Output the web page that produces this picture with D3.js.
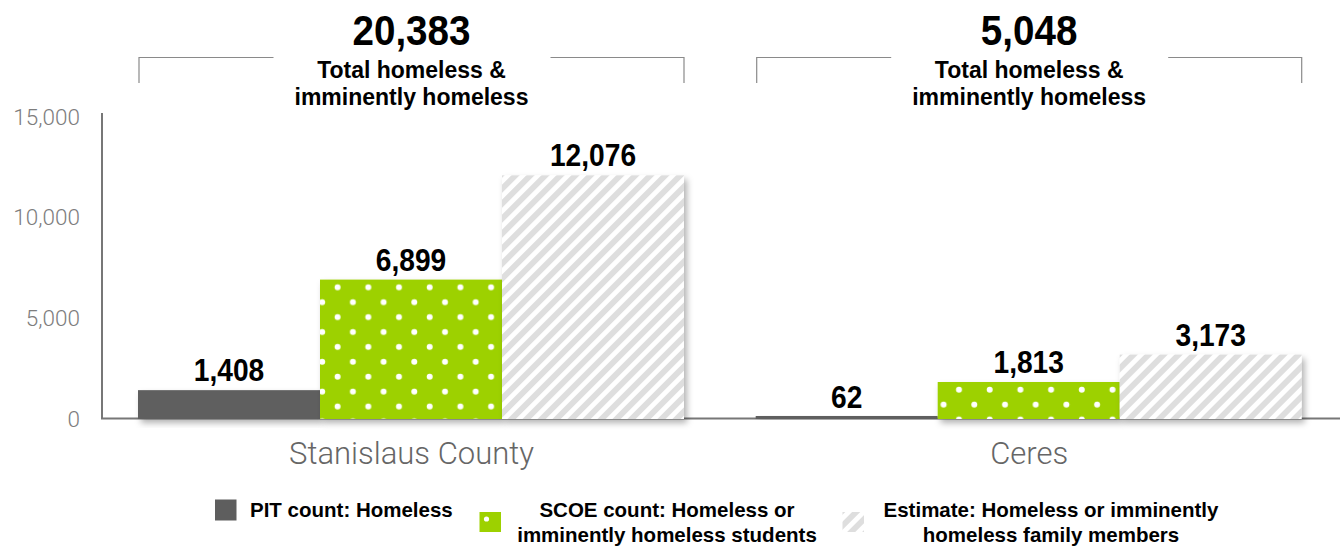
<!DOCTYPE html>
<html>
<head>
<meta charset="utf-8">
<script src="https://cdn.jsdelivr.net/npm/d3@7"></script>
<style>
  body { margin: 0; background: #fff; }
  svg { display: block; }
</style>
</head>
<body>
<div id="chart"></div>
<script>
// data
var groups = ["Stanislaus County", "Ceres"];
var seriesKeys = ["pit", "scoe", "estimate"];
var pitValues = [1408, 62];
var scoeValues = [6899, 1813];
var estimateValues = [12076, 3173];
var totals = [20383, 5048];
var totalLabel = ["Total homeless &", "imminently homeless"];
var yTicks = [0, 5000, 10000, 15000];
var legendLabels = [
  ["PIT count: Homeless"],
  ["SCOE count: Homeless or", "imminently homeless students"],
  ["Estimate: Homeless or imminently", "homeless family members"]
];

var W = 1343, H = 546;
var bold = "'Liberation Sans', Arial, sans-serif";
var light = "Roboto, 'Helvetica Neue', sans-serif";

var rows = groups.map(function(g, i) {
  return {group: g, i: i, pit: pitValues[i], scoe: scoeValues[i], estimate: estimateValues[i], total: totals[i]};
});

var svg = d3.select("#chart").append("svg")
  .attr("width", W).attr("height", H);
var defs = svg.append("defs");

// drop shadow for bars
var f = defs.append("filter").attr("id", "shadow")
  .attr("x", "-10%").attr("y", "-10%").attr("width", "130%").attr("height", "140%");
f.append("feDropShadow").attr("dx", 3).attr("dy", 4).attr("stdDeviation", 3)
  .attr("flood-color", "#000").attr("flood-opacity", 0.3);

// stripe pattern
var stripe = defs.append("pattern").attr("id", "stripes")
  .attr("patternUnits", "userSpaceOnUse").attr("width", 10.6).attr("height", 10.6)
  .attr("patternTransform", "rotate(45)");
stripe.append("rect").attr("width", 10.6).attr("height", 10.6).attr("fill", "#fff");
stripe.append("rect").attr("width", 5.8).attr("height", 10.6).attr("fill", "#dedede");

// scales
var x0 = d3.scaleBand().domain(groups).range([102, 1337.4]).padding(0);
var x1 = d3.scaleBand().domain(seriesKeys).range([36, 582]);
var y = d3.scaleLinear().domain([0, 15000]).range([418.5, 116.5]);

// dotted pattern, one per bar so it is anchored to the bar corner
function dotPattern(id, px, py) {
  var p = defs.append("pattern").attr("id", id)
    .attr("patternUnits", "userSpaceOnUse")
    .attr("x", px).attr("y", py).attr("width", 30.7).attr("height", 29.8);
  p.append("rect").attr("width", 30.7).attr("height", 29.8).attr("fill", "#9dd100");
  p.append("circle").attr("cx", 7.7).attr("cy", 7.6).attr("r", 3).attr("fill", "#fff");
  p.append("circle").attr("cx", 23).attr("cy", 22.5).attr("r", 3).attr("fill", "#fff");
  return "url(#" + id + ")";
}

function fillFor(key, d, bx, by) {
  if (key === "pit") return "#5e5e5e";
  if (key === "scoe") return dotPattern("dots" + d.i, bx, by);
  return "url(#stripes)";
}

// condensed bold number (squeezed horizontally)
function numText(sel, x, yy, size, sx, txt) {
  sel.append("text")
    .attr("transform", "translate(" + x + "," + yy + ") scale(" + sx + ",1)")
    .attr("text-anchor", "middle")
    .style("font-family", bold).style("font-weight", "bold")
    .style("font-size", size + "px").attr("fill", "#000")
    .text(txt);
}

// y axis labels
svg.append("g").selectAll("text").data(yTicks).enter().append("text")
  .attr("x", 80).attr("y", function(d) { return y(d) + 8; })
  .attr("text-anchor", "end")
  .style("font-family", light).style("font-weight", 300)
  .style("font-size", "22.5px").attr("fill", "#7d7d7d")
  .text(function(d) { return d3.format(",")(d); });

// axes lines
svg.append("line").attr("x1", 102).attr("x2", 102).attr("y1", 113).attr("y2", 419)
  .attr("stroke", "#777").attr("stroke-width", 2);
svg.append("line").attr("x1", 101).attr("x2", 1340).attr("y1", 418.5).attr("y2", 418.5)
  .attr("stroke", "#777").attr("stroke-width", 2);

// bars
var g = svg.append("g").selectAll("g").data(rows).enter().append("g")
  .attr("transform", function(d) { return "translate(" + x0(d.group) + ",0)"; });

g.each(function(d) {
  var sel = d3.select(this);
  seriesKeys.forEach(function(k) {
    var bx = x1(k), by = Math.min(y(d[k]), y(0) - 2.5);
    sel.append("rect")
      .attr("x", bx).attr("y", by)
      .attr("width", x1.bandwidth())
      .attr("height", y(0) + 0.5 - by)
      .attr("fill", fillFor(k, d, x0(d.group) + bx, by))
      .attr("filter", "url(#shadow)");
  });
  seriesKeys.forEach(function(k) {
    numText(sel, x1(k) + x1.bandwidth() / 2, y(d[k]) - 9, 32, 0.88, d3.format(",")(d[k]));
  });

  // bracket + totals
  var left = x1("pit") + 1, right = x1("estimate") + x1.bandwidth();
  var mid = (left + right) / 2;
  sel.append("path")
    .attr("d", "M" + left + ",83V57.5H" + (mid - 138) + "M" + (mid + 139) + ",57.5H" + right + "V83")
    .attr("fill", "none").attr("stroke", "#8a8a8a").attr("stroke-width", 1.2);
  numText(sel, mid, 44.5, 42, 0.92, d3.format(",")(d.total));
  totalLabel.forEach(function(t, j) {
    sel.append("text")
      .attr("x", mid).attr("y", 78 + j * 27)
      .attr("text-anchor", "middle")
      .style("font-family", bold).style("font-weight", "bold")
      .style("font-size", "23px").attr("fill", "#000")
      .text(t);
  });

  // category label
  sel.append("text")
    .attr("x", mid).attr("y", 464)
    .attr("text-anchor", "middle")
    .style("font-family", light).style("font-weight", 300)
    .style("font-size", "31px").attr("fill", "#666")
    .text(d.group);
});

// legend
var lg = svg.append("g");
var legendFont = "20.5px";
// PIT
lg.append("rect").attr("x", 215).attr("y", 499.5).attr("width", 21.5).attr("height", 21).attr("fill", "#5e5e5e");
lg.append("text").attr("x", 250).attr("y", 517)
  .style("font-family", bold).style("font-weight", "bold").style("font-size", legendFont)
  .text(legendLabels[0][0]);
// SCOE
lg.append("rect").attr("x", 479.5).attr("y", 512).attr("width", 21.5).attr("height", 20).attr("fill", "#9dd100");
lg.append("circle").attr("cx", 486.5).attr("cy", 519).attr("r", 2.6).attr("fill", "#fff");
legendLabels[1].forEach(function(t, j) {
  lg.append("text").attr("x", 667).attr("y", 517 + j * 25).attr("text-anchor", "middle")
    .style("font-family", bold).style("font-weight", "bold").style("font-size", legendFont)
    .text(t);
});
// Estimate
lg.append("rect").attr("x", 842.5).attr("y", 512).attr("width", 21.5).attr("height", 20).attr("fill", "url(#stripes)");
legendLabels[2].forEach(function(t, j) {
  lg.append("text").attr("x", 1051).attr("y", 517 + j * 25).attr("text-anchor", "middle")
    .style("font-family", bold).style("font-weight", "bold").style("font-size", legendFont)
    .text(t);
});
</script>
</body>
</html>
